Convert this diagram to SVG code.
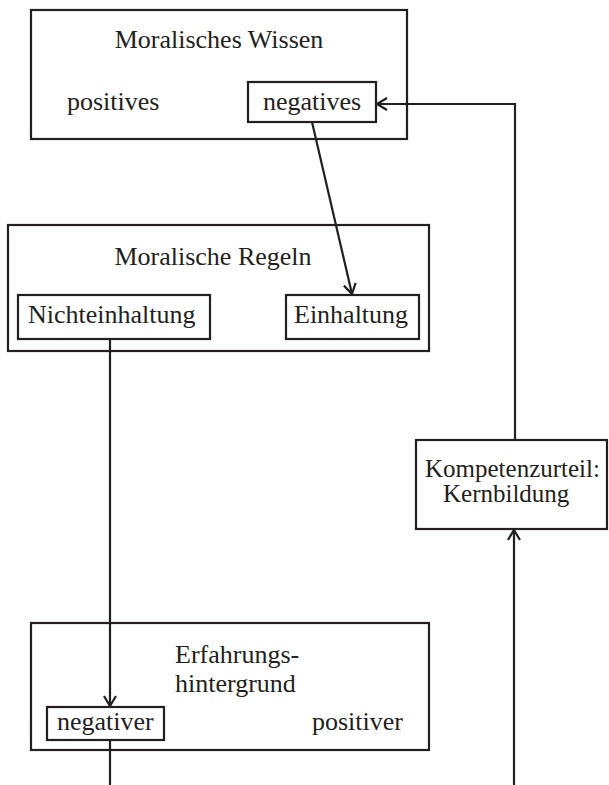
<svg xmlns="http://www.w3.org/2000/svg" width="609" height="785" viewBox="0 0 609 785">
<defs>
<style>
rect{fill:#fff;stroke:#231f20;stroke-width:2.2}
text{font-family:"Liberation Serif","Times New Roman",serif;font-size:26px;fill:#231f20}
.c{fill:none;stroke:#231f20;stroke-width:2.2}
</style>
<marker id="ah" viewBox="0 0 12 14" refX="11" refY="7" markerWidth="12" markerHeight="14" markerUnits="userSpaceOnUse" orient="auto">
<path d="M1,1 L11,7 L1,13" fill="none" stroke="#231f20" stroke-width="2.2"/>
</marker>
</defs>
<rect width="609" height="785" style="fill:#fff;stroke:none"/>
<g id="wissen">
<rect x="31" y="10" width="376" height="129"/>
<text x="219" y="48" text-anchor="middle">Moralisches Wissen</text>
<text x="67" y="110">positives</text>
</g>
<g id="negatives">
<rect x="248" y="82" width="128" height="40"/>
<text x="263" y="110">negatives</text>
</g>
<g id="regeln">
<rect x="8" y="225" width="421" height="126"/>
<text x="213" y="265" text-anchor="middle">Moralische Regeln</text>
</g>
<g id="nichteinhaltung">
<rect x="18" y="295" width="192" height="44"/>
<text x="28" y="323">Nichteinhaltung</text>
</g>
<g id="einhaltung">
<rect x="286" y="295" width="133" height="44"/>
<text x="294" y="323">Einhaltung</text>
</g>
<g id="kompetenz">
<rect x="416" y="440" width="191" height="89"/>
<text style="font-size:25px"><tspan x="425" y="477">Kompetenzurteil:</tspan><tspan x="443" y="502">Kernbildung</tspan></text>
</g>
<g id="erfahrung">
<rect x="31" y="623" width="398" height="127"/>
<text x="175" y="663">Erfahrungs-</text>
<text x="175" y="692">hintergrund</text>
<text x="312" y="730">positiver</text>
</g>
<g id="negativer">
<rect x="47" y="707" width="117" height="33"/>
<text x="57" y="730">negativer</text>
</g>
<g id="connectors">
<polyline class="c" points="515,440 515,104 377,104" marker-end="url(#ah)"/>
<line class="c" x1="312" y1="122" x2="352" y2="294" marker-end="url(#ah)"/>
<line class="c" x1="110" y1="339" x2="110" y2="706" marker-end="url(#ah)"/>
<line class="c" x1="110" y1="740" x2="110" y2="785"/>
<line class="c" x1="514" y1="785" x2="514" y2="530" marker-end="url(#ah)"/>
</g>
</svg>
